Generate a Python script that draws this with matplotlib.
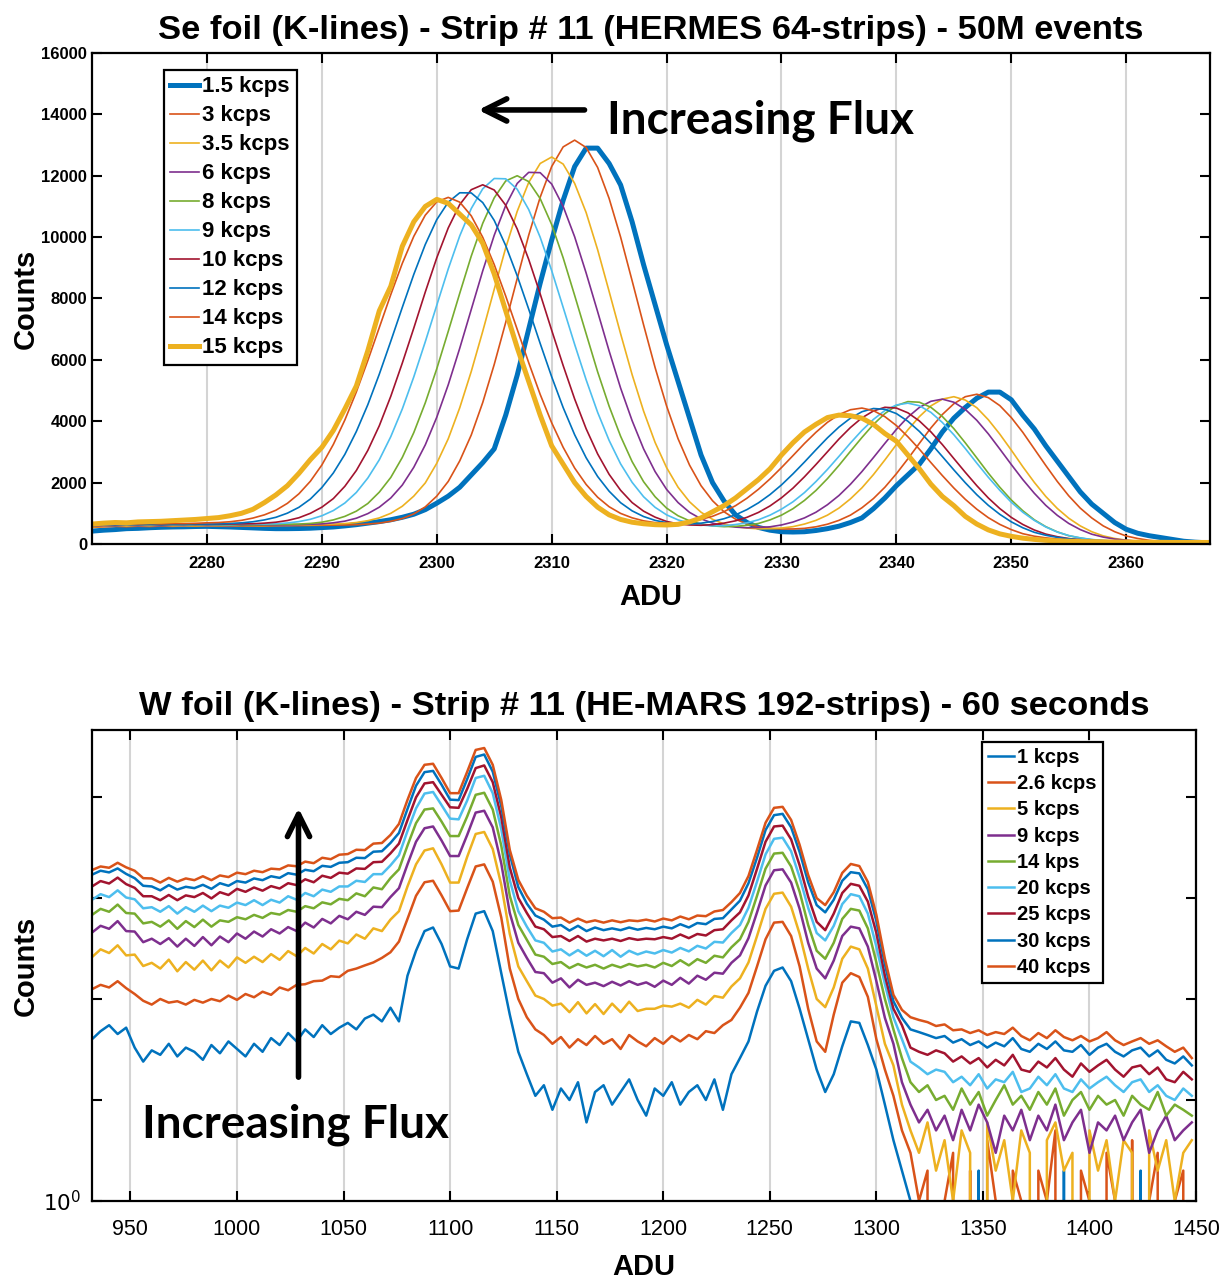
import numpy as np
import matplotlib
matplotlib.use("Agg")
import matplotlib.pyplot as plt

plt.rcParams['font.family'] = ['Liberation Sans', 'DejaVu Sans']

# MATLAB default colour order
col = ['#0072BD', '#D95319', '#EDB120', '#7E2F8E', '#77AC30', '#4DBEEE', '#A2142F']

# ---------------- Se foil, HERMES 64 strips (counts per ADU channel) ----------------
se_adu = np.arange(2270, 2368)
se_labels = ['1.5 kcps', '3 kcps', '3.5 kcps', '6 kcps', '8 kcps', '9 kcps',
             '10 kcps', '12 kcps', '14 kcps', '15 kcps']

se_1p5 = [420, 450, 470, 500, 510, 530, 545, 555, 560, 570, 575, 565, 555, 540, 525, 510, 500, 500, 505, 515,
          535, 555, 590, 630, 680, 730, 790, 870, 970, 1120, 1330, 1560, 1850, 2250, 2650, 3100, 4200, 5500, 7000, 8500,
          9900, 11200, 12300, 12900, 12900, 12400, 11700, 10500, 9100, 7800, 6500, 5300, 4100, 2900, 2000, 1400, 950, 700, 540, 450,
          400, 390, 400, 440, 500, 580, 700, 850, 1150, 1500, 1900, 2250, 2600, 3100, 3650, 4100, 4450, 4750, 4950, 4950,
          4700, 4200, 3750, 3200, 2700, 2200, 1700, 1300, 1000, 700, 480, 350, 270, 210, 150, 90, 60, 40]
se_3 = [540, 560, 575, 565, 580, 570, 585, 575, 590, 580, 595, 585, 575, 590, 580, 585, 595,
        600, 600, 605, 610, 615, 620, 630, 650, 680, 740, 830, 980, 1210,
        1560, 2040, 2710, 3550, 4610, 5850, 7220, 8650, 10060, 11300,
        12300, 12940, 13160, 12920, 12270, 11260, 10000, 8580, 7140, 5750,
        4500, 3430, 2570, 1900, 1410, 1050, 810, 650, 560, 510,
        490, 490, 510, 560, 645, 770, 940, 1180, 1480, 1850,
        2290, 2775, 3280, 3780, 4220, 4570, 4800, 4880, 4770, 4510,
        4120, 3640, 3100, 2560, 2040, 1570, 1170, 850, 590, 400,
        260, 180, 120, 85, 60, 50, 40, 35]
se_3p5 = [560, 575, 590, 580, 595, 585, 600, 590, 580, 595, 585, 600, 590, 605, 595, 600, 610, 615,
          620, 625, 635, 650, 665, 700, 760, 850, 1000, 1230, 1560, 1990,
          2630, 3430, 4440, 5620, 6930, 8300, 9650, 10840, 11780, 12400,
          12610, 12380, 11750, 10800, 9590, 8230, 6850, 5520, 4330, 3310,
          2490, 1850, 1375, 1035, 805, 650, 565, 520, 495, 500,
          520, 565, 650, 770, 940, 1170, 1470, 1830, 2260, 2740,
          3240, 3720, 4150, 4500, 4720, 4800, 4690, 4440, 4050, 3580,
          3060, 2520, 2010, 1550, 1160, 840, 590, 400, 265, 180,
          125, 93, 70, 60, 50, 48, 45, 45]
se_6 = [580, 600, 590, 610, 595, 605, 590, 610, 600, 615, 600, 610, 595, 615, 605, 620,
        620, 625, 630, 645, 655, 690, 745, 840, 990, 1200, 1500, 1920, 2500, 3230,
        4130, 5190, 6380, 7640, 8900, 10060, 11030, 11750, 12110, 12100,
        11730, 11000, 10010, 8830, 7570, 6290, 5080, 4020, 3100, 2360,
        1780, 1350, 1030, 820, 680, 600, 550, 530, 540, 560,
        620, 715, 850, 1035, 1280, 1580, 1945, 2360, 2815, 3280,
        3735, 4135, 4450, 4650, 4720, 4620, 4385, 4030, 3590, 3095,
        2590, 2100, 1655, 1260, 935, 670, 470, 320, 225, 160,
        120, 90, 75, 65, 60, 58, 55, 55]
se_8 = [600, 615, 605, 620, 610, 625, 605, 620, 615, 630, 610, 625, 615, 630, 620, 635,
        640, 645, 650, 670, 710, 785, 900, 1070, 1320, 1690, 2170, 2820, 3630, 4600,
        5710, 6930, 8170, 9380, 10450, 11280, 11830, 12000, 11810, 11255,
        10410, 9325, 8100, 6850, 5610, 4490, 3510, 2685, 2030, 1540,
        1170, 920, 755, 650, 590, 565, 575, 610, 670, 785,
        940, 1150, 1420, 1745, 2130, 2560, 3020, 3470, 3895, 4250,
        4510, 4640, 4620, 4455, 4155, 3760, 3295, 2805, 2310, 1850,
        1435, 1085, 790, 565, 395, 270, 195, 140, 110, 90,
        75, 68, 65, 62, 60, 60, 58, 58]
se_9 = [610, 625, 615, 630, 620, 635, 615, 630, 625, 640, 620, 635, 630, 645,
        645, 650, 660, 685, 730, 805, 920, 1090, 1335, 1680, 2150, 2745, 3500, 4400, 5445, 6590,
        7780, 8965, 10040, 10930, 11575, 11910, 11900, 11560, 10900, 9995,
        8910, 7710, 6505, 5350, 4290, 3375, 2610, 2010, 1540, 1195,
        950, 785, 680, 620, 590, 595, 635, 690, 790, 940,
        1135, 1375, 1675, 2035, 2430, 2855, 3290, 3700, 4060, 4350,
        4530, 4590, 4505, 4290, 3960, 3560, 3110, 2635, 2175, 1750,
        1360, 1035, 770, 555, 390, 275, 200, 147, 114, 95,
        82, 75, 72, 70, 68, 66, 65, 65]
se_10 = [615, 635, 625, 640, 630, 645, 625, 640, 635, 650, 630, 645,
         650, 655, 660, 680, 710, 765, 855, 1000, 1200, 1480, 1880, 2395, 3050, 3855, 4815, 5895, 7035, 8210,
         9325, 10300, 11060, 11545, 11705, 11535, 11040, 10265, 9275, 8150,
         6965, 5815, 4725, 3755, 2935, 2270, 1750, 1350, 1070, 875,
         735, 655, 620, 610, 630, 680, 755, 870, 1030, 1240,
         1505, 1820, 2190, 2590, 3005, 3420, 3795, 4110, 4335, 4455,
         4430, 4275, 4010, 3655, 3240, 2785, 2335, 1900, 1500, 1155,
         867, 637, 457, 323, 238, 178, 139, 113, 97, 87,
         80, 78, 76, 75, 73, 72, 72, 70]
se_12 = [620, 640, 630, 645, 635, 650, 630, 645, 640, 655,
         650, 655, 670, 690, 725, 785, 870, 1005, 1195, 1465, 1840, 2315, 2920, 3665, 4540, 5535, 6610, 7710, 8785, 9760,
         10570, 11140, 11445, 11440, 11125, 10545, 9725, 8740, 7655, 6535,
         5450, 4445, 3560, 2810, 2200, 1720, 1345, 1080, 895, 770,
         695, 657, 653, 679, 734, 824, 949, 1122, 1342, 1610,
         1925, 2285, 2670, 3070, 3460, 3810, 4100, 4310, 4415, 4390,
         4250, 4000, 3670, 3280, 2850, 2415, 1995, 1605, 1260, 967,
         722, 529, 381, 284, 216, 168, 136, 116, 103, 95,
         92, 90, 88, 86, 85, 85, 84, 83]
se_14 = [640, 660, 650, 665, 655, 670, 655, 670, 665,
         675, 690, 700, 725, 770, 845, 950, 1100, 1325, 1635, 2045, 2575, 3245, 4040, 4955, 5980, 7055, 8130, 9145, 10025, 10715,
         11150, 11295, 11140, 10695, 9995, 9105, 8080, 6995, 5910, 4875,
         3950, 3150, 2475, 1940, 1524, 1214, 997, 853, 755, 696,
         680, 692, 730, 803, 903, 1054, 1248, 1493, 1785, 2120,
         2490, 2880, 3275, 3640, 3965, 4215, 4375, 4430, 4345, 4150,
         3860, 3495, 3090, 2655, 2230, 1825, 1455, 1133, 858, 639,
         468, 336, 254, 200, 161, 134, 118, 110, 105, 102,
         100, 98, 96, 95, 94, 93, 92, 92]
se_15 = [650, 680, 700, 690, 720, 730, 740, 760, 780, 800,
         830, 860, 920, 1000, 1130, 1350, 1600, 1900, 2300, 2750,
         3150, 3700, 4400, 5150, 6300, 7600, 8400, 9700, 10500, 11000,
         11230, 11100, 10750, 10400, 9800, 8800, 7600, 6400, 5300, 4200,
         3200, 2600, 2000, 1550, 1200, 950, 800, 710, 660, 630,
         620, 640, 720, 850, 1050, 1250, 1500, 1800, 2100, 2450,
         2900, 3300, 3650, 3900, 4120, 4200, 4180, 4100, 3900, 3600,
         3350, 2900, 2450, 1950, 1550, 1250, 900, 650, 460, 330,
         250, 190, 150, 120, 100, 90, 80, 75, 70, 65,
         60, 60, 55, 55, 50, 50, 50, 50]

# ---------------- W foil, HE-MARS 192 strips (counts, every 4th ADU channel) ----------------
w_adu = np.arange(932, 1449, 4)
w_labels = ['1 kcps', '2.6 kcps', '5 kcps', '9 kcps', '14 kps', '20 kcps',
            '25 kcps', '30 kcps', '40 kcps']

w_1 = [40, 48, 55, 45, 52, 33, 24, 31, 28, 36, 27, 33, 30, 25, 35, 29, 38, 32, 27, 36,
       30, 41, 35, 46, 38, 50, 42, 55, 45, 52, 58, 50, 64, 70, 60, 82, 60, 170, 300, 470,
       510, 350, 210, 200, 390, 700, 740, 470, 180, 70, 30, 18, 11, 14, 8, 13, 10, 15, 6, 12,
       14, 9, 12, 16, 10, 7, 13, 11, 15, 9, 12, 14, 10, 16, 8, 18, 26, 38, 75, 135,
       190, 205, 150, 80, 40, 20, 12, 18, 34, 60, 58, 35, 20, 9, 4, 2, 1, 0, 1, 0,
       0, 1, 0, 0, 2, 0, 1, 0, 0, 1, 0, 0, 1, 0, 2, 0, 0, 1, 0, 0,
       1, 0, 0, 2, 0, 1, 0, 0, 1, 0]
w_2p6 = [125, 138, 130, 150, 128, 112, 96, 88, 100, 92, 95, 88, 98, 92, 100, 95, 108, 98, 112, 104,
         118, 110, 130, 122, 138, 140, 150, 152, 168, 165, 190, 200, 215, 230, 255, 290, 370, 620, 1050, 1430,
         1480, 1060, 740, 750, 1250, 2050, 2150, 1450, 640, 200, 100, 66, 50, 44, 36, 42, 33, 40, 35, 43,
         36, 40, 32, 44, 38, 34, 41, 36, 43, 38, 44, 40, 48, 46, 55, 62, 82, 115, 210, 390,
         570, 580, 420, 210, 80, 38, 30, 70, 145, 180, 165, 105, 40, 20, 11, 5, 3, 1, 2, 0,
         1, 3, 0, 2, 0, 4, 1, 0, 2, 1, 0, 2, 1, 5, 0, 0, 2, 1, 0, 3,
         1, 0, 4, 0, 1, 3, 0, 1, 2, 0]
w_5 = [260, 310, 285, 340, 270, 275, 212, 228, 200, 245, 188, 232, 195, 240, 192, 240, 205, 258, 228, 262,
       232, 278, 244, 298, 265, 320, 282, 350, 310, 378, 355, 435, 395, 500, 470, 610, 740, 1300, 2150, 2950,
       3100, 2150, 1420, 1420, 2550, 4300, 4500, 3050, 1350, 440, 210, 150, 108, 100, 86, 90, 74, 93, 72, 89,
       71, 90, 74, 94, 76, 80, 80, 86, 84, 90, 82, 98, 88, 107, 103, 133, 160, 230, 420, 780,
       1100, 1130, 820, 440, 200, 100, 83, 130, 250, 330, 310, 200, 85, 36, 22, 9, 5, 3, 6, 2,
       4, 1, 5, 3, 0, 6, 2, 4, 1, 5, 3, 0, 4, 6, 2, 3, 0, 5, 2, 4,
       1, 4, 3, 0, 5, 2, 4, 1, 3, 4]
w_9 = [455, 530, 495, 590, 470, 465, 365, 395, 350, 400, 330, 395, 335, 410, 340, 415, 365, 445, 395, 465,
       415, 490, 445, 515, 470, 570, 510, 620, 560, 665, 615, 730, 680, 820, 810, 1020, 1250, 2150, 3600, 4900,
       5100, 3700, 2600, 2600, 4200, 7000, 7300, 5000, 2200, 710, 360, 255, 185, 180, 145, 160, 130, 155, 138, 145,
       134, 148, 136, 150, 138, 146, 132, 152, 138, 162, 142, 170, 155, 182, 178, 228, 270, 400, 720, 1330,
       1880, 1920, 1420, 780, 360, 200, 160, 240, 420, 520, 500, 330, 150, 65, 36, 15, 9, 6, 8, 5,
       7, 4, 8, 5, 9, 6, 3, 7, 5, 8, 4, 7, 5, 9, 4, 6, 8, 3, 6, 5,
       7, 4, 6, 8, 3, 5, 7, 4, 5, 6]
w_14 = [680, 780, 730, 860, 710, 700, 560, 580, 520, 600, 495, 590, 515, 610, 520, 600, 580, 645, 615, 680,
        635, 710, 685, 760, 730, 830, 790, 905, 865, 980, 950, 1110, 1040, 1270, 1220, 1570, 1920, 3300, 5500, 7500,
        7700, 5700, 4100, 4100, 6400, 10500, 11000, 7500, 3300, 1050, 540, 385, 275, 262, 222, 232, 202, 222, 205, 218,
        200, 218, 205, 222, 210, 218, 205, 228, 212, 242, 215, 248, 228, 268, 258, 325, 390, 580, 1050, 1950,
        2750, 2800, 2050, 1150, 540, 300, 250, 360, 620, 780, 750, 500, 230, 100, 50, 26, 15, 12, 14, 10,
        11, 8, 13, 9, 12, 7, 10, 14, 9, 11, 8, 12, 9, 13, 7, 10, 12, 8, 11, 9,
        10, 7, 11, 9, 8, 12, 7, 9, 8, 7]
w_20 = [960, 1090, 1020, 1190, 1010, 970, 790, 810, 730, 830, 700, 810, 730, 840, 740, 840, 800, 900, 850, 950,
        850, 960, 900, 1040, 960, 1120, 1040, 1210, 1150, 1300, 1300, 1480, 1440, 1720, 1720, 2100, 2650, 4600, 7700, 10800,
        11200, 8300, 6100, 6000, 9200, 15400, 16200, 10900, 4800, 1500, 740, 520, 380, 360, 295, 310, 270, 305, 268, 300,
        265, 305, 262, 300, 276, 295, 282, 305, 288, 320, 296, 336, 316, 368, 362, 450, 540, 800, 1450, 2700,
        3850, 3950, 2900, 1600, 800, 450, 380, 530, 870, 1090, 1040, 700, 330, 140, 66, 40, 24, 21, 18, 20,
        19, 15, 17, 14, 18, 13, 16, 15, 19, 12, 13, 17, 14, 18, 13, 12, 16, 13, 15, 17,
        14, 12, 15, 16, 12, 14, 11, 10, 13, 11]
w_25 = [1300, 1470, 1390, 1590, 1370, 1260, 1040, 1040, 950, 1070, 950, 1060, 1020, 1120, 990, 1140, 1070, 1230, 1150, 1270,
        1180, 1310, 1240, 1400, 1340, 1530, 1430, 1660, 1580, 1780, 1740, 1960, 1940, 2260, 2280, 2760, 3450, 5900, 9900, 13600,
        14000, 10500, 7900, 7800, 12000, 19300, 20500, 14000, 6300, 2000, 1000, 710, 520, 490, 410, 420, 375, 420, 370, 395,
        380, 395, 375, 400, 385, 395, 390, 410, 395, 435, 400, 440, 425, 480, 490, 600, 720, 1060, 1940, 3600,
        5100, 5200, 3800, 2100, 1030, 580, 480, 700, 1120, 1380, 1320, 920, 450, 170, 80, 55, 33, 30, 28, 31,
        29, 24, 27, 23, 26, 21, 25, 22, 28, 20, 19, 24, 21, 26, 20, 17, 23, 19, 22, 25,
        20, 17, 21, 22, 18, 21, 16, 15, 19, 16]
w_30 = [1700, 1860, 1790, 1960, 1730, 1570, 1320, 1300, 1190, 1340, 1210, 1290, 1250, 1350, 1230, 1400, 1320, 1470, 1420, 1560,
        1500, 1640, 1580, 1760, 1700, 1900, 1840, 2080, 2030, 2230, 2260, 2500, 2480, 2870, 2900, 3500, 4400, 7600, 12900, 17600,
        18100, 13200, 9400, 9300, 15000, 24900, 26300, 17800, 8100, 2700, 1280, 880, 670, 610, 520, 540, 475, 530, 470, 510,
        480, 500, 480, 510, 485, 505, 490, 520, 500, 550, 510, 565, 550, 620, 630, 770, 940, 1400, 2500, 4700,
        6600, 6800, 5000, 2850, 1430, 850, 720, 960, 1480, 1800, 1750, 1220, 590, 220, 95, 65, 50, 47, 44, 41,
        43, 37, 40, 35, 38, 33, 37, 34, 41, 32, 30, 36, 32, 38, 31, 30, 35, 28, 33, 36,
        30, 27, 31, 33, 27, 31, 25, 23, 27, 22]
w_40 = [1890, 2050, 1990, 2230, 2010, 1860, 1570, 1560, 1420, 1580, 1450, 1560, 1500, 1640, 1500, 1670, 1610, 1780, 1720, 1860,
        1800, 1950, 1920, 2100, 2060, 2290, 2210, 2500, 2420, 2680, 2720, 3000, 2980, 3450, 3500, 4200, 5410, 9340, 15400, 20800,
        21300, 15400, 10900, 10900, 17700, 29200, 30500, 20800, 9340, 2990, 1510, 1050, 790, 730, 630, 640, 570, 625, 575, 600,
        570, 600, 575, 600, 590, 610, 585, 625, 600, 655, 615, 670, 660, 735, 760, 910, 1120, 1650, 2990, 5550,
        7800, 7980, 5920, 3350, 1690, 995, 850, 1140, 1770, 2170, 2070, 1440, 680, 250, 110, 78, 66, 62, 59, 54,
        56, 49, 50, 46, 49, 44, 47, 45, 52, 43, 39, 46, 41, 49, 42, 39, 43, 38, 41, 47,
        39, 35, 38, 41, 36, 39, 34, 30, 33, 26]

se_series = [se_1p5, se_3, se_3p5, se_6, se_8, se_9, se_10, se_12, se_14, se_15]
w_series = [w_1, w_2p6, w_5, w_9, w_14, w_20, w_25, w_30, w_40]

fig = plt.figure(figsize=(12.29, 12.8), dpi=100)

# ---------------- top panel ----------------
ax1 = fig.add_axes([0.0749, 0.575, 0.9097, 0.3836])
for k, (y, lab) in enumerate(zip(se_series, se_labels)):
    lw = 3.6 if k in (0, 9) else 1.2
    ax1.plot(se_adu, y, color=col[k % 7], lw=lw, label=lab)

ax1.set_xlim(2270, 2367.3)
ax1.set_ylim(0, 16000)
ax1.set_xticks(np.arange(2280, 2361, 10))
ax1.set_yticks(np.arange(0, 16001, 2000))
ax1.grid(axis='x', color='#d4d4d4', lw=1.5)
ax1.set_axisbelow(True)
ax1.tick_params(direction='in', length=7, width=1.5, top=True, right=True, labelsize=12)
ax1.tick_params(axis='x', pad=9)
for t in ax1.get_xticklabels() + ax1.get_yticklabels():
    t.set_fontweight('bold')
for s in ax1.spines.values():
    s.set_linewidth(1.6)
ax1.set_title('Se foil (K-lines) - Strip # 11 (HERMES 64-strips) - 50M events',
              fontsize=24.8, fontweight='bold', pad=10)
ax1.set_xlabel('ADU', fontsize=21, fontweight='bold', labelpad=8)
ax1.set_ylabel('Counts', fontsize=21, fontweight='bold', labelpad=1)
leg1 = ax1.legend(loc='upper left', bbox_to_anchor=(0.064, 0.966), borderaxespad=0,
                  fancybox=False, framealpha=1, edgecolor='black', handlelength=1.3,
                  handletextpad=0.15, labelspacing=0.36, borderpad=0.3,
                  prop={'weight': 'bold', 'size': 16})
leg1.get_frame().set_linewidth(1.6)

ax1.annotate('', xy=(0.343, 0.884), xytext=(0.443, 0.884), xycoords='axes fraction',
             arrowprops=dict(arrowstyle='->', lw=4, color='black', mutation_scale=40))
ax1.text(0.461, 0.862, 'Increasing Flux', transform=ax1.transAxes, fontsize=33,
         fontweight='bold', family=['Lato', 'DejaVu Sans'], va='center', ha='left')

# ---------------- bottom panel ----------------
ax2 = fig.add_axes([0.0749, 0.0617, 0.8983, 0.368])
for k, (y, lab) in enumerate(zip(w_series, w_labels)):
    ax2.plot(w_adu, y, color=col[k % 7], lw=1.8, label=lab)

ax2.set_yscale('log')
ax2.set_xlim(932, 1450)
ax2.set_ylim(1, 46000)
ax2.set_xticks(np.arange(950, 1451, 50))
ax2.set_yticks([1, 10, 100, 1000, 10000])
ax2.set_yticklabels(['$10^0$', '', '', '', ''])
ax2.minorticks_off()
ax2.grid(axis='x', color='#d4d4d4', lw=1.5)
ax2.set_axisbelow(True)
ax2.tick_params(direction='in', length=7, width=1.5, top=True, right=True, labelsize=15.5)
ax2.tick_params(axis='x', pad=13)
ax2.tick_params(axis='y', pad=8)
for s in ax2.spines.values():
    s.set_linewidth(1.6)
ax2.set_title('W foil (K-lines) - Strip # 11 (HE-MARS 192-strips) - 60 seconds',
              fontsize=24.8, fontweight='bold', pad=11)
ax2.set_xlabel('ADU', fontsize=21, fontweight='bold', labelpad=9)
ax2.set_ylabel('Counts', fontsize=21, fontweight='bold', labelpad=2)
leg2 = ax2.legend(loc='upper left', bbox_to_anchor=(0.806, 0.975), borderaxespad=0,
                  fancybox=False, framealpha=1, edgecolor='black', handlelength=1.3,
                  handletextpad=0.15, labelspacing=0.36, borderpad=0.3,
                  prop={'weight': 'bold', 'size': 14.5})
leg2.get_frame().set_linewidth(1.6)

ax2.annotate('', xy=(0.187, 0.84), xytext=(0.187, 0.257), xycoords='axes fraction',
             arrowprops=dict(arrowstyle='->', lw=4, color='black', mutation_scale=40))
ax2.text(0.184, 0.161, 'Increasing Flux', transform=ax2.transAxes, fontsize=33,
         fontweight='bold', family=['Lato', 'DejaVu Sans'], va='center', ha='center')

fig.savefig('out.png', dpi=100)
